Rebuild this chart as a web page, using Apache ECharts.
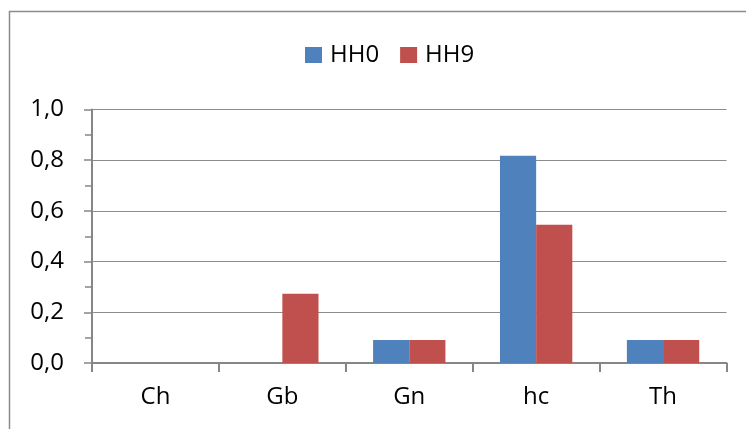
<!DOCTYPE html>
<html>
<head>
<meta charset="utf-8">
<script src="https://cdn.jsdelivr.net/npm/echarts@6/dist/echarts.min.js"></script>
<style>html,body{margin:0;padding:0;background:#fff}#c{width:746px;height:429px}</style>
</head>
<body>
<div id="c"></div>
<script>
const categories = ['Ch', 'Gb', 'Gn', 'hc', 'Th'];
const seriesNames = ['HH0', 'HH9'];
const hh0 = [0, 0, 0.091, 0.818, 0.091];
const hh9 = [0, 0.273, 0.091, 0.545, 0.091];
const yTicks = [0, 0.2, 0.4, 0.6, 0.8, 1.0];

const chart = echarts.init(document.getElementById('c'));
const axisGray = '#868686';
const font = '"Open Sans", "Noto Sans", sans-serif';
chart.setOption({
  animation: false,
  graphic: [{
    type: 'rect', silent: true,
    shape: { x: 9.5, y: 11.5, width: 900, height: 600 },
    style: { fill: 'none', stroke: '#8c8c8c', lineWidth: 1.5 }
  }],
  legend: {
    left: 300, top: 38,
    itemWidth: 17, itemHeight: 16, itemGap: 21,
    icon: 'rect',
    textStyle: { fontFamily: font, fontSize: 24, color: '#000', padding: [0, 0, 0, 3] },
    data: seriesNames
  },
  grid: { left: 92, right: 19.5, top: 109.5, bottom: 66 },
  xAxis: {
    type: 'category', data: categories,
    axisLine: { lineStyle: { color: axisGray, width: 2 } },
    axisTick: { show: true, length: 9, lineStyle: { color: axisGray, width: 2 } },
    axisLabel: { fontFamily: font, fontSize: 24, color: '#000', margin: 22 }
  },
  yAxis: {
    type: 'value', min: yTicks[0], max: yTicks[yTicks.length - 1], interval: 0.2,
    axisLine: { show: true, lineStyle: { color: axisGray, width: 2 } },
    axisTick: { show: true, length: 8, lineStyle: { color: axisGray, width: 1.5 } },
    minorTick: { show: true, splitNumber: 2, length: 7, lineStyle: { color: axisGray, width: 1.5 } },
    splitLine: { lineStyle: { color: '#8c8c8c', width: 1.2 } },
    axisLabel: {
      fontFamily: font, fontSize: 24, color: '#000', margin: 28,
      formatter: v => v.toFixed(1).replace('.', ',')
    }
  },
  series: [
    { name: seriesNames[0], type: 'bar', data: hh0, barGap: '0%', barCategoryGap: '43%', itemStyle: { color: '#4F81BD' } },
    { name: seriesNames[1], type: 'bar', data: hh9, barGap: '0%', barCategoryGap: '43%', itemStyle: { color: '#C0504D' } }
  ]
});
</script>
</body>
</html>
